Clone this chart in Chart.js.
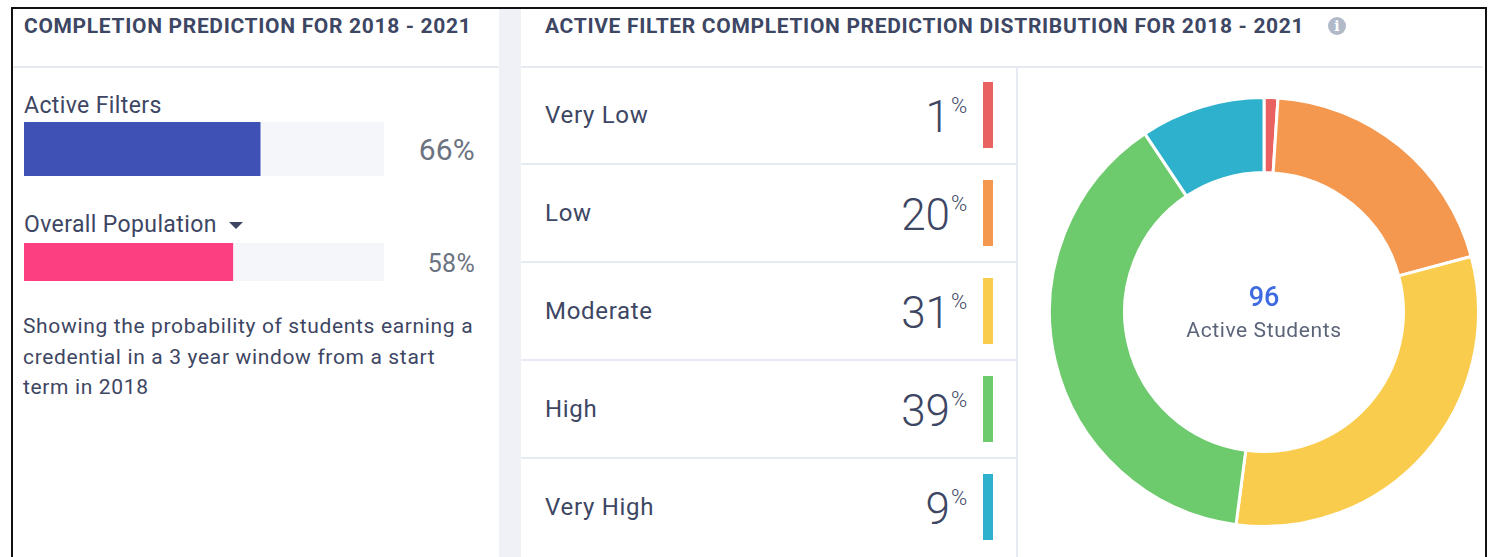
<!DOCTYPE html>
<html>
<head>
<meta charset="utf-8">
<title>Completion Prediction</title>
<script src="https://cdn.jsdelivr.net/npm/chart.js@4"></script>
<style>
html, body { margin: 0; padding: 0; background: #fff; }
body { width: 1488px; height: 557px; overflow: hidden; position: relative; font-family: Roboto, sans-serif; color: #3d4663; }
.abs { position: absolute; white-space: nowrap; }
#frame { left: 11px; top: 7px; width: 1472px; height: 560px; border: 2px solid #111; box-sizing: content-box; }
.title { top: 14px; font-size: 21px; font-weight: 700; letter-spacing: 0.67px; line-height: 24px; }
.rule { background: #e6eaf2; }
.label { font-size: 23px; letter-spacing: 0.38px; line-height: 28px; }
.rowLabel { font-size: 24px; letter-spacing: 0.7px; line-height: 28px; }
.pct { color: #6c7380; text-align: right; right: 1013px; }
.num { font-size: 44px; font-weight: 300; line-height: 50px; text-align: right; right: 538px; }
.sup { font-size: 22px; font-weight: 300; line-height: 20px; left: 951px; }
.swatch { left: 983px; width: 10px; height: 66px; }
canvas { position: absolute; }
</style>
</head>
<body>
<div id="frame" class="abs"></div>
<div class="abs" style="left:499px;top:9px;width:22px;height:548px;background:#eff1f7"></div>
<div class="abs rule" style="left:13px;top:66px;width:486px;height:2px"></div>
<div class="abs rule" style="left:521px;top:66px;width:962px;height:2px"></div>
<div class="abs rule" style="left:1016px;top:68px;width:2px;height:489px"></div>

<div class="abs title" style="left:24px">COMPLETION PREDICTION FOR 2018 - 2021</div>
<div class="abs title" style="left:545px">ACTIVE FILTER COMPLETION PREDICTION DISTRIBUTION FOR 2018 - 2021</div>
<div class="abs" style="left:1328px;top:17px;width:18px;height:18px;border-radius:50%;background:#b1b9c9;color:#fff;font:700 14px/18px 'DejaVu Serif',serif;text-align:center">i</div>

<div class="abs label" style="left:24px;top:92px">Active Filters</div>
<div class="abs label" style="left:24px;top:211px">Overall Population</div>
<div class="abs" style="left:229px;top:222px;border-left:7px solid transparent;border-right:7px solid transparent;border-top:7px solid #3d4663"></div>
<canvas id="activeBar"></canvas>
<canvas id="overallBar"></canvas>
<div id="activePct" class="abs pct" style="top:132px;font-size:30px;line-height:36px;letter-spacing:0.2px"></div>
<div id="overallPct" class="abs pct" style="top:249px;font-size:25px;line-height:30px;letter-spacing:0.3px"></div>
<div class="abs" style="left:23px;top:311px;font-size:21px;line-height:30.5px;letter-spacing:0.65px">Showing the probability of students earning a<br>credential in a 3 year window from a start<br>term in 2018</div>

<div id="rows"></div>

<canvas id="donut"></canvas>
<div id="totalValue" class="abs" style="left:1164px;width:200px;top:281px;text-align:center;font-size:27px;font-weight:500;line-height:32px;color:#3f6be0"></div>
<div class="abs" style="left:1164px;width:200px;top:316px;text-align:center;font-size:21px;line-height:28px;letter-spacing:0.6px;color:#5b6478">Active Students</div>

<script>
// Left panel values
var barLabels = ['Active Filters', 'Overall Population'];
var barValues = [65.6, 58];
var barColors = ['#3f51b5', '#fb3f80'];
var trackMax = 100;

// Distribution values (percent labels are rounded, the ring follows the student counts)
var categories = ['Very Low', 'Low', 'Moderate', 'High', 'Very High'];
var shares = [1, 20, 31, 39, 9];
var studentCounts = [1, 19, 30, 37, 9];
var shareColors = ['#e96161', '#f4984f', '#f9cc4e', '#6dca6d', '#2eb1cc'];
var activeStudents = 96;

// Horizontal progress bar with a pale track behind it
function drawBar(id, index, left, top, width, height) {
    var canvas = document.getElementById(id);
    canvas.style.left = left + 'px';
    canvas.style.top = top + 'px';
    canvas.width = width;
    canvas.height = height;

    new Chart(canvas.getContext('2d'), {
        type: 'bar',
        data: {
            labels: [barLabels[index]],
            datasets: [
                { data: [barValues[index]], backgroundColor: barColors[index], borderRadius: { topLeft: 2, bottomLeft: 2 }, borderSkipped: false, order: 1 },
                { data: [trackMax], backgroundColor: '#f4f6fa', borderRadius: 2, borderSkipped: false, order: 2 }
            ]
        },
        options: {
            indexAxis: 'y',
            responsive: false,
            animation: false,
            layout: { padding: 0 },
            datasets: { bar: { grouped: false, barPercentage: 1, categoryPercentage: 1 } },
            plugins: { legend: { display: false }, tooltip: { enabled: false } },
            scales: {
                x: { display: false, min: 0, max: trackMax },
                y: { display: false }
            }
        }
    });
}

drawBar('activeBar', 0, 24, 122, 360, 54);
drawBar('overallBar', 1, 24, 243, 360, 38);
document.getElementById('activePct').textContent = Math.round(barValues[0]) + '%';
document.getElementById('overallPct').textContent = Math.round(barValues[1]) + '%';

// Category rows next to the doughnut
var rowsHtml = '';
categories.forEach(function(name, i) {
    var y = 66 + i * 98;
    rowsHtml += '<div class="abs rowLabel" style="left:545px;top:' + (y + 35) + 'px">' + name + '</div>';
    rowsHtml += '<div class="abs num" style="top:' + (y + 26) + 'px">' + shares[i] + '</div>';
    rowsHtml += '<div class="abs sup" style="top:' + (y + 30) + 'px">%</div>';
    rowsHtml += '<div class="abs swatch" style="top:' + (y + 16) + 'px;background:' + shareColors[i] + '"></div>';
    if (i > 0) {
        rowsHtml += '<div class="abs rule" style="left:521px;width:495px;height:2px;top:' + (y - 1) + 'px"></div>';
    }
});
document.getElementById('rows').innerHTML = rowsHtml;

// Doughnut
var donut = document.getElementById('donut');
donut.style.left = '1048px';
donut.style.top = '96px';
donut.width = 432;
donut.height = 432;

new Chart(donut.getContext('2d'), {
    type: 'doughnut',
    data: {
        labels: categories,
        datasets: [{
            data: studentCounts,
            backgroundColor: shareColors,
            borderColor: '#ffffff',
            borderWidth: 3
        }]
    },
    options: {
        responsive: false,
        animation: false,
        cutout: '65%',
        plugins: { legend: { display: false }, tooltip: { enabled: false } }
    }
});

document.getElementById('totalValue').textContent = activeStudents;
</script>
</body>
</html>
